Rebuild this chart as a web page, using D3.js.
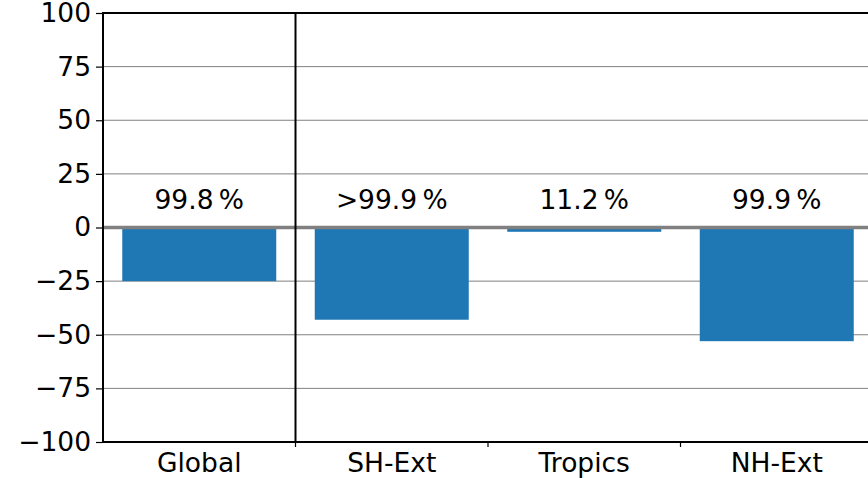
<!DOCTYPE html>
<html>
<head>
<meta charset="utf-8">
<script src="https://cdn.jsdelivr.net/npm/d3@7"></script>
<style>
  body { margin: 0; background: #fff; }
  svg { display: block; font-family: "DejaVu Sans", sans-serif; }
</style>
</head>
<body>
<div id="chart"></div>
<script>
// data
const regions = ['Global', 'SH-Ext', 'Tropics', 'NH-Ext'];
const changes = [-25, -43, -2, -53];
const confidence = ['99.8\u2009%', '>99.9\u2009%', '11.2\u2009%', '99.9\u2009%'];
const yTicks = [-100, -75, -50, -25, 0, 25, 50, 75, 100];

const width = 868, height = 478;
const margin = {top: 13, right: -5, bottom: 36, left: 103};
const fs = 26.5;

const svg = d3.select('#chart').append('svg')
    .attr('width', width)
    .attr('height', height);

// x goes from -0.5 to n-0.5 like a categorical axis
const x = d3.scaleLinear()
    .domain([-0.5, regions.length - 0.5])
    .range([margin.left, width - margin.right]);
const y = d3.scaleLinear()
    .domain([-100, 100])
    .range([height - margin.bottom, margin.top]);

const barW = 0.8;

// grid lines
svg.append('g')
    .selectAll('line')
    .data(yTicks.filter(d => d !== 0))
    .join('line')
    .attr('x1', margin.left).attr('x2', width)
    .attr('y1', d => y(d)).attr('y2', d => y(d))
    .attr('stroke', '#808080')
    .attr('stroke-width', 1);

// bars
svg.append('g')
    .selectAll('rect')
    .data(changes)
    .join('rect')
    .attr('x', (d, i) => x(i - barW / 2))
    .attr('width', (d, i) => x(i + barW / 2) - x(i - barW / 2))
    .attr('y', d => y(Math.max(0, d)))
    .attr('height', d => Math.abs(y(d) - y(0)))
    .attr('fill', '#1f77b4');

// zero line
svg.append('line')
    .attr('x1', margin.left).attr('x2', width)
    .attr('y1', y(0)).attr('y2', y(0))
    .attr('stroke', '#808080')
    .attr('stroke-width', 3.5);

// separator after Global
svg.append('line')
    .attr('x1', x(0.5)).attr('x2', x(0.5))
    .attr('y1', y(100)).attr('y2', y(-100))
    .attr('stroke', '#000')
    .attr('stroke-width', 2);

// confidence labels
svg.append('g')
    .selectAll('text')
    .data(confidence)
    .join('text')
    .attr('x', (d, i) => x(i))
    .attr('y', y(8.5))
    .attr('text-anchor', 'middle')
    .attr('font-size', fs)
    .text(d => d);

// y axis
const yAxis = svg.append('g')
    .attr('transform', `translate(${margin.left},0)`)
    .call(d3.axisLeft(y).tickValues(yTicks).tickSize(7).tickPadding(5)
        .tickFormat(d => d < 0 ? '\u2212' + Math.abs(d) : d));
yAxis.selectAll('text').attr('font-size', fs).attr('font-family', '"DejaVu Sans", sans-serif').attr('fill', '#000');
yAxis.selectAll('line').attr('stroke', '#000').attr('stroke-width', 1.2);
yAxis.select('.domain').remove();

// x axis: ticks at category boundaries, labels at centres
const xAxis = svg.append('g')
    .attr('transform', `translate(0,${y(-100)})`);
xAxis.selectAll('line')
    .data(d3.range(0.5, regions.length, 1))
    .join('line')
    .attr('x1', d => x(d)).attr('x2', d => x(d))
    .attr('y1', 0).attr('y2', 5)
    .attr('stroke', '#000')
    .attr('stroke-width', 1.2);
xAxis.selectAll('text')
    .data(regions)
    .join('text')
    .attr('x', (d, i) => x(i))
    .attr('y', 30)
    .attr('text-anchor', 'middle')
    .attr('font-size', fs)
    .text(d => d);

// frame
svg.append('rect')
    .attr('x', margin.left).attr('y', y(100))
    .attr('width', x(regions.length - 0.5) - margin.left)
    .attr('height', y(-100) - y(100))
    .attr('fill', 'none')
    .attr('stroke', '#000')
    .attr('stroke-width', 2);
</script>
</body>
</html>
